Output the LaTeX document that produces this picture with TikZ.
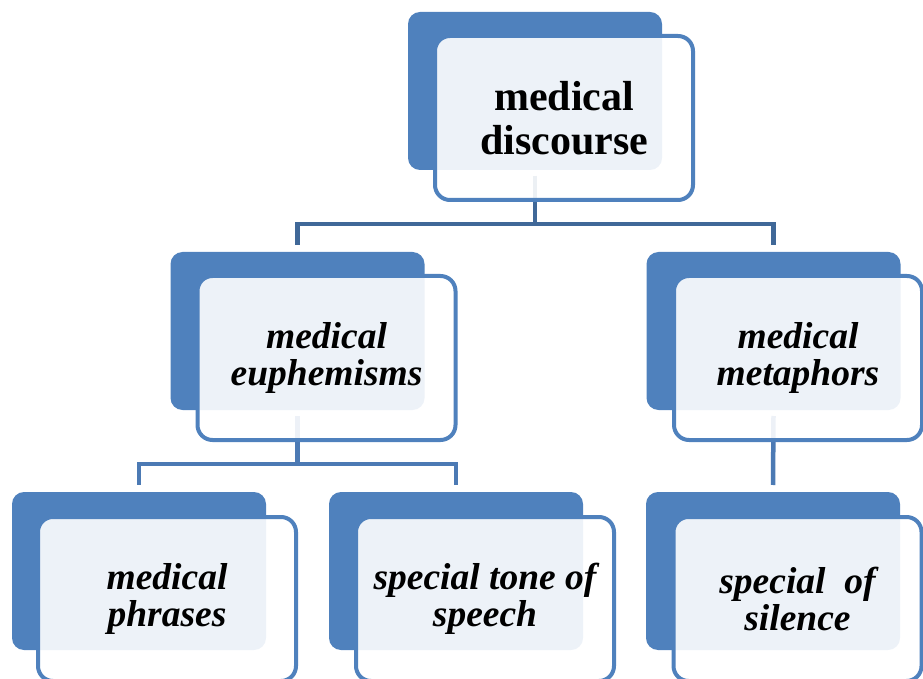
\documentclass[tikz,border=0pt]{standalone}
\usepackage{fontspec}
\setmainfont{Liberation Serif}
\usetikzlibrary{positioning, calc}

\definecolor{boxblue}{RGB}{79,129,189}
\definecolor{linkdark}{RGB}{64,104,152}
\definecolor{linkblue}{RGB}{76,122,180}

\begin{document}
\begin{tikzpicture}[back/.style={rectangle,rounded corners=12pt,fill=boxblue,minimum width=254pt,minimum height=158pt,inner sep=0pt,outer sep=0pt},
  front/.style={rectangle,rounded corners=15pt,draw=boxblue,line width=4pt,fill=white,fill opacity=0.9,text opacity=1,minimum width=258pt,minimum height=164pt,align=center,inner sep=0pt},
  narrow/.style={minimum width=248pt},
  top/.style={font=\fontsize{42}{44}\selectfont\bfseries},
  sub/.style={font=\fontsize{37.5}{37}\selectfont\bfseries\itshape},
  link/.style={line width=4.5pt,linkblue},
  node distance = 63pt]
\useasboundingbox (0,0) rectangle (923pt,678pt);
\clip (0,0) rectangle (923pt,678pt);
\node (b1) [back] at (535pt,587pt) {};
\node (b2) [back] at (297.5pt,347pt) {};
\node (b3) [back, right=222pt of b2] {};
\node (b4) [back] at (139pt,107pt) {};
\node (b5) [back, right=of b4] {};
\node (b6) [back, right=of b5] {};
  \begin{scope}
    \draw [link, linkdark] ($(b1.south)+(0,-6pt)$) |- ($(b2.north)+(0,28pt)$) -- ($(b2.north)+(0,7pt)$);
    \draw [link, linkdark] ($(b1.south)+(0,-6pt)$) |- ($(b3.north)+(0,28pt)$) -- ($(b3.north)+(0,7pt)$);
    \draw [link] ($(b2.south)+(0,-6pt)$) |- ($(b4.north)+(0,28pt)$) -- ($(b4.north)+(0,7pt)$);
    \draw [link] ($(b2.south)+(0,-6pt)$) |- ($(b5.north)+(0,28pt)$) -- ($(b5.north)+(0,7pt)$);
    \draw [link] ($(b3.south)+(0,-6pt)$) -- ($(b6.north)+(0,7pt)$);
  \end{scope}
\node (f1) [front, top] at ($(b1)+(29pt,-27pt)$) {medical\\discourse};
\node (f2) [front, sub] at ($(b2)+(29pt,-27pt)$) {medical\\euphemisms};
\node (f3) [front, narrow, sub] at ($(b3)+(24.5pt,-27pt)$) {medical\\metaphors};
\node (f4) [front, sub] at ($(b4)+(28pt,-28pt)$) {medical\\phrases};
\node (f5) [front, sub] at ($(b5)+(29pt,-28pt)$) {special tone of\\speech};
\node (f6) [front, narrow, sub] at ($(b6)+(24.5pt,-28pt)$) {special\ \ of\\silence};
\end{tikzpicture}
\end{document}
